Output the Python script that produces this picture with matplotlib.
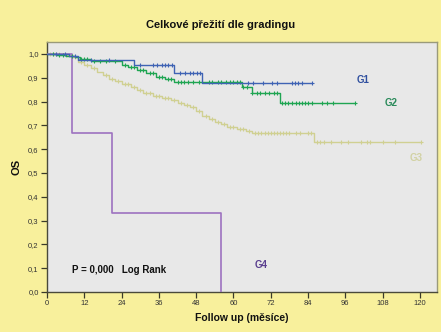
import numpy as np
import matplotlib
matplotlib.use("Agg")
import matplotlib.pyplot as plt
from matplotlib.ticker import FuncFormatter

plt.rcParams['font.family'] = ['Liberation Sans', 'DejaVu Sans']

# Kaplan-Meier step data (event times in months, survival after the step)
g1_t = [0, 7, 10, 28, 41, 50]
g1_s = [1.0, 0.99, 0.975, 0.954, 0.919, 0.879]
g1_end = 85.3
g1_cens = [3, 5.8, 9, 14, 20, 30, 34, 35.4, 37, 38, 39, 40.2, 42.8, 44.4, 46, 47,
           48.3, 49.2, 64.7, 66.3, 69.5, 72.4, 74, 78.8, 79.8, 80.8, 82, 85.3]

g2_t = [0, 3, 6, 9, 10.5, 14, 24, 26, 29, 32, 35, 38, 41, 62.6, 66, 75]
g2_s = [1.0, 0.995, 0.99, 0.985, 0.977, 0.97, 0.955, 0.945, 0.933, 0.92, 0.905,
        0.893, 0.884, 0.863, 0.835, 0.793]
g2_end = 99
g2_cens = [2, 4, 5, 8, 11, 12, 13, 15, 17, 19, 22, 25, 27, 28, 30, 31, 33, 34, 36,
           37, 39, 40, 42, 43, 44, 45.5, 47, 49, 52, 53, 55, 56, 57.5, 59, 60, 61,
           62, 63, 64.5, 66, 67.5, 68.5, 70, 71.5, 73, 74, 75.5, 76.5, 77.5, 78.8,
           80, 81, 82, 83, 84, 85.3, 88.5, 90, 92, 99]

g3_t = [0, 5, 8, 10, 12, 14, 16, 18, 20, 22, 24, 27, 29, 31, 34, 37, 40, 42, 44,
        46, 48, 50, 52, 54, 56, 58, 61, 64, 66, 86]
g3_s = [1.0, 0.995, 0.985, 0.965, 0.952, 0.94, 0.925, 0.91, 0.895, 0.885, 0.875,
        0.862, 0.85, 0.835, 0.825, 0.815, 0.805, 0.795, 0.785, 0.775, 0.76, 0.74,
        0.728, 0.716, 0.705, 0.695, 0.685, 0.676, 0.668, 0.63]
g3_end = 120.5
g3_cens = [1, 2, 3, 4, 6, 7, 9, 11, 13, 15, 19, 21, 23, 25, 26, 28, 30, 32, 33, 35,
           36, 38, 39, 41, 43, 45, 47, 49, 51, 53, 55, 57, 59, 60, 62, 63, 65, 67,
           68, 69, 70, 71, 72, 73, 74, 75, 76, 77, 78, 80, 81.5, 84, 85, 87, 88, 89,
           91.5, 94.5, 97, 101, 103, 104, 108, 112, 120.5]

g4_t = [0, 8, 21, 56]
g4_s = [1.0, 0.667, 0.333, 0.0]
g4_end = 56

x_ticks = list(range(0, 121, 12))
y_ticks = [i / 10 for i in range(11)]

bg = '#f8f09c'
fig = plt.figure(figsize=(4.41, 3.32), dpi=100, facecolor=bg)
ax = fig.add_axes([0.1066, 0.1205, 0.8844, 0.753])
ax.set_facecolor('#e8e8e8')


def km(ax, t, s, end, cens, color, lw=1.0, z=2):
    x = list(t) + [end]
    y = list(s) + [s[-1]]
    ax.step(x, y, where='post', color=color, lw=lw, zorder=z)
    if cens:
        c = np.array(cens)
        idx = np.searchsorted(t, c, side='right') - 1
        ax.plot(c, np.array(s)[idx], ls='none', marker='+', ms=3.5, mew=0.8,
                color=color, zorder=z)


km(ax, g3_t, g3_s, g3_end, g3_cens, '#d0d092', z=2)
km(ax, g4_t, g4_s, g4_end, None, '#9d72c0', lw=1.2, z=3)
km(ax, g2_t, g2_s, g2_end, g2_cens, '#1fa552', z=4)
km(ax, g1_t, g1_s, g1_end, g1_cens, '#3f63b4', z=5)

ax.text(99.7, 0.89, 'G1', color='#2f4f9f', fontsize=7, fontweight='bold', va='center')
ax.text(108.7, 0.794, 'G2', color='#2a8a5a', fontsize=7, fontweight='bold', va='center')
ax.text(116.8, 0.563, 'G3', color='#d2d2a4', fontsize=7, fontweight='bold', va='center')
ax.text(66.9, 0.113, 'G4', color='#5a3f8f', fontsize=7, fontweight='bold', va='center')
ax.text(8, 0.093, 'P = 0,000   Log Rank', color='#111111', fontsize=7,
        fontweight='bold', va='center')

ax.set_xlim(0, 125.5)
ax.set_ylim(0, 1.05)
ax.set_xticks(x_ticks)
ax.set_yticks(y_ticks)
ax.yaxis.set_major_formatter(FuncFormatter(lambda v, p: f'{v:.1f}'.replace('.', ',')))
ax.tick_params(direction='out', length=4, width=0.9, color='#3a3a2a',
               labelsize=5.5, labelcolor='#333333', pad=2)

for side in ['left', 'bottom']:
    ax.spines[side].set_color('#4a4a3a')
    ax.spines[side].set_linewidth(1.0)
for side in ['top', 'right']:
    ax.spines[side].set_color('#9a9a7a')
    ax.spines[side].set_linewidth(1.0)

ax.set_xlabel('Follow up (měsíce)', fontsize=7.5, fontweight='bold', color='#111111',
              labelpad=4)
ax.set_ylabel('OS', fontsize=8, fontweight='bold', color='#111111', labelpad=5)
fig.text(0.5, 0.925, 'Celkové přežití dle gradingu', ha='center', va='center',
         fontsize=8, fontweight='bold', color='#111111')

fig.savefig('out.png', dpi=100, facecolor=bg)
